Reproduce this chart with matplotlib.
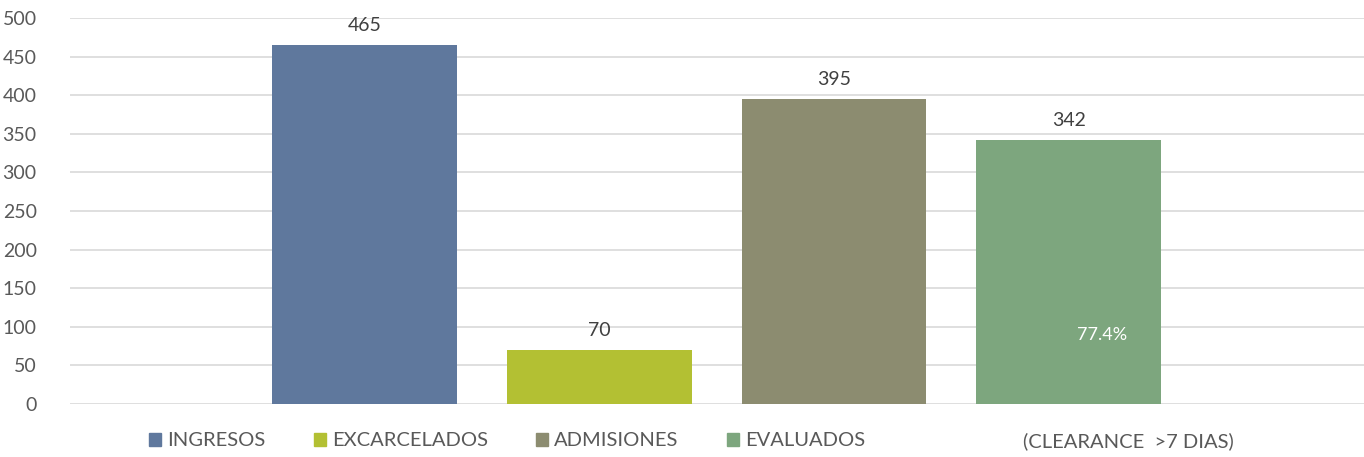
import matplotlib.pyplot as plt
from matplotlib.patches import Patch

series = ["INGRESOS", "EXCARCELADOS", "ADMISIONES", "EVALUADOS"]
valores = [465, 70, 395, 342]
colores = ["#5F789D", "#B3C033", "#8C8C70", "#7DA67E"]
clearance_txt = "77.4%"
clearance_label = "(CLEARANCE  >7 DIAS)"
yticks = list(range(0, 501, 50))

plt.rcParams["font.family"] = ["Lato", "DejaVu Sans"]
texto = "#595959"

fig = plt.figure(figsize=(13.64, 4.57), dpi=100)
ax = fig.add_axes([70 / 1364, 1 - 404 / 457, 1 - 70 / 1364, (404 - 18) / 457])

x = list(range(len(series)))
ax.bar(x, valores, width=0.787, color=colores, zorder=3)
for xi, v in zip(x, valores):
    ax.annotate(str(v), (xi, v), xytext=(0, 8), textcoords="offset points",
                ha="center", va="bottom", fontsize=14, color="#404040")

# porcentaje de clearance dentro de la barra de evaluados
ax.text(3.14, 89, clearance_txt, ha="center", va="center",
        fontsize=13, color="white", zorder=4)

ax.set_xlim(-1.253, 4.257)
ax.set_ylim(0, 500)
ax.set_yticks(yticks)
ax.set_xticks([])
ax.grid(axis="y", color="#D9D9D9", linewidth=1.2, zorder=0)
for s in ax.spines.values():
    s.set_visible(False)
ax.tick_params(axis="y", length=0, labelsize=14, labelcolor=texto, pad=24)

handles = [Patch(color=c) for c in colores]
fig.legend(handles, series, loc="center", bbox_to_anchor=(507 / 1364, 1 - 441 / 457),
           ncol=4, frameon=False, fontsize=14.5, labelcolor=texto,
           handlelength=0.6, handleheight=0.6, handletextpad=0.3,
           columnspacing=2.4)
fig.text(1128 / 1364, 1 - 441 / 457, clearance_label, ha="center", va="center",
         fontsize=14.5, color=texto)

fig.savefig("out.png", dpi=100)
